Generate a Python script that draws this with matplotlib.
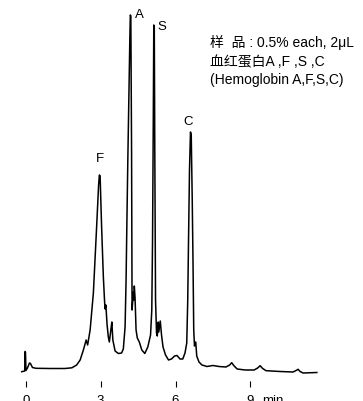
import matplotlib.pyplot as plt

# chromatogram trace: time (min) and detector signal (arb.)
time_min = [-0.16, -0.04, -0.03, -0.01, 0.01, 0.07, 0.15, 0.19, 0.27, 0.41,
            0.97, 1.57, 1.85, 2.04, 2.18, 2.31, 2.42, 2.48, 2.58, 2.71,
            2.84, 2.92, 2.95, 2.98, 3.04, 3.11, 3.16, 3.18, 3.21, 3.26,
            3.31, 3.35, 3.41, 3.45, 3.49, 3.58, 3.71, 3.84, 3.91, 3.98,
            4.02, 4.05, 4.09, 4.13, 4.17, 4.19, 4.21, 4.24, 4.26, 4.29,
            4.31, 4.33, 4.35, 4.38, 4.42, 4.47, 4.55, 4.65, 4.77, 4.89,
            5.00, 5.05, 5.08, 5.11, 5.13, 5.15, 5.17, 5.20, 5.24, 5.27,
            5.31, 5.33, 5.39, 5.44, 5.50, 5.60, 5.72, 5.84, 5.96, 6.06,
            6.18, 6.29, 6.38, 6.45, 6.49, 6.52, 6.56, 6.60, 6.63, 6.67,
            6.70, 6.73, 6.76, 6.81, 6.85, 6.94, 7.06, 7.26, 7.50, 7.74,
            8.02, 8.17, 8.25, 8.35, 8.47, 8.79, 9.15, 9.29, 9.39, 9.49,
            9.63, 10.19, 10.71, 10.83, 10.91, 10.99, 11.11, 11.66]
signal = [-3.4, -2.7, 16.8, 16.3, -2.2, 0.3, 5.3, 4.8, 0.8, 0.0,
          -0.2, -0.2, 0.5, 3.3, 8.3, 18.3, 28.3, 23.3, 38.3, 75.3,
          141.3, 183.3, 193.3, 192.3, 141.3, 91.3, 66.3, 59.3, 63.3, 43.3,
          31.3, 26.3, 38.3, 46.3, 28.3, 17.3, 14.8, 15.3, 19.3, 41.3,
          88.3, 141.3, 208.3, 268.3, 328.3, 353.3, 352.3, 218.3, 58.3, 68.3,
          76.3, 68.3, 82.3, 70.3, 38.3, 30.3, 26.3, 18.3, 14.8, 21.3,
          33.3, 58.3, 128.3, 248.3, 343.3, 342.3, 218.3, 68.3, 35.3, 32.3,
          46.3, 36.3, 47.3, 33.3, 21.3, 13.3, 8.3, 9.3, 12.3, 12.8,
          9.3, 9.3, 15.3, 25.3, 68.3, 125.3, 198.3, 236.3, 233.3, 168.3,
          108.3, 38.3, 22.3, 26.3, 12.3, 6.3, 3.3, 1.8, 2.8, 1.8,
          1.3, 3.3, 5.6, 2.3, -0.7, -1.7, -1.7, 0.3, 2.6, -0.2,
          -2.4, -3.2, -3.7, -2.2, -1.0, -3.2, -4.7, -4.2]

ticks = [0, 3, 6, 9]
tick_labels = ['0', '3', '6', '9']
peak_names = ['F', 'A', 'S', 'C']

font = ['Liberation Sans', 'Noto Sans CJK SC', 'DejaVu Sans']
plt.rcParams['font.family'] = font

fig = plt.figure(figsize=(3.63, 4.01), dpi=100)
ax = fig.add_axes([0, 0, 1, 1])
ax.plot(time_min, signal, color='black', lw=1.1)

ax.set_xlim(-1.03, 13.51)
ax.set_ylim(-32.7, 368.3)

for s in ['top', 'right', 'left']:
    ax.spines[s].set_visible(False)
ax.spines['bottom'].set_position(('data', -12.7))
ax.spines['bottom'].set_visible(False)
ax.set_yticks([])
ax.set_xticks(ticks)
ax.set_xticklabels(tick_labels)
ax.tick_params(axis='x', direction='out', length=4.3, width=0.8, pad=5.8,
               labelsize=9.5)
ax.text(9.47, 0.015, 'min', transform=ax.get_xaxis_transform(),
        ha='left', va='top', fontsize=9.5)

# peak labels
ax.text(2.98, 209, peak_names[0], ha='center', va='center', fontsize=9.5)
ax.text(4.54, 353, peak_names[1], ha='center', va='center', fontsize=9.5)
ax.text(5.46, 341, peak_names[2], ha='center', va='center', fontsize=9.5)
ax.text(6.52, 246, peak_names[3], ha='center', va='center', fontsize=9.5)

fig.text(0.5785, 0.8928, '样  品 : 0.5% each, 2μL', va='center', fontsize=10)
fig.text(0.5785, 0.8454, '血红蛋白A ,F ,S ,C', va='center', fontsize=10)
fig.text(0.5785, 0.8005, '(Hemoglobin A,F,S,C)', va='center', fontsize=10)

fig.savefig('out.png', dpi=100)
